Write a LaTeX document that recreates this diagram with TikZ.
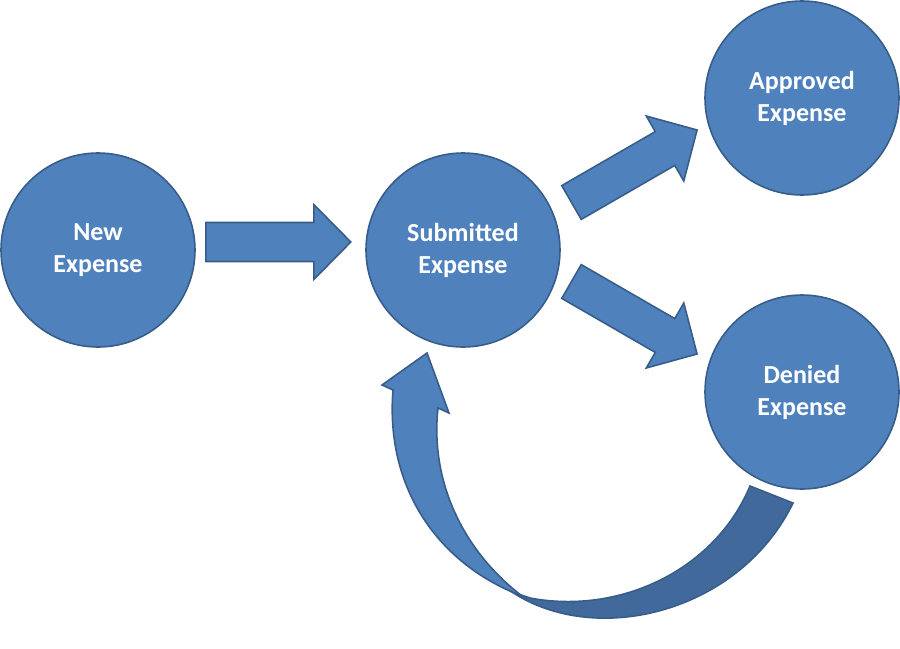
\documentclass[tikz,border=0pt]{standalone}
\usepackage{fontspec}
\setmainfont{Carlito}
\usetikzlibrary{calc}

\definecolor{stateblue}{HTML}{4F81BD}
\definecolor{edgeblue}{HTML}{385D8A}
\definecolor{backblue}{HTML}{41699B}

\begin{document}
\begin{tikzpicture}[x=1pt, y=-1pt, line width=1.6pt,
  state/.style={circle, draw=edgeblue, fill=stateblue, minimum size=194pt, inner sep=0pt,
    align=center, text=white, font=\fontsize{26}{32}\selectfont\bfseries},
  face/.style={draw=edgeblue, fill=stateblue},
  backface/.style={draw=edgeblue, fill=backblue},
  % block arrow, tail at the origin, pointing along +x
  blockarrow/.pic={\draw[face] (0,-19.5) -- (108,-19.5) -- (108,-37.5) -- (145,0)
    -- (108,37.5) -- (108,19.5) -- (0,19.5) -- cycle;}]

  % ── the four states ──
  \node[state] (new) at (98,250)  {New\\Expense};
  \node[state] (sub) at (463,250) {Submitted\\Expense};
  \node[state] (app) at (802,98)  {Approved\\Expense};
  \node[state] (den) at (802,392) {Denied\\Expense};

  % ── straight block arrows ──
  \pic at ($(new.east)+(10,-8)$) {blockarrow};
  \pic[rotate=30]  at ($(sub)+(108.5,-47.5)$) {blockarrow};
  \pic[rotate=-30] at ($(sub)+(108.5,31.5)$)  {blockarrow};

  % ── curved arrow: denied -> submitted ──
  % back side first (darker), then the front side with the head
  \draw[backface] (512,592) .. controls (597,648) and (740,612) .. (793,503)
    -- (750,486) .. controls (715,570) and (620,615) .. (530,598) -- cycle;
  \draw[face] (427,353) -- (449,413) -- (438,408)
    .. controls (430,480) and (462,550) .. (522,596)
    .. controls (440,565) and (385,490) .. (393,390) -- (382,385) -- cycle;

  \path[use as bounding box] (0,0) rectangle (900,640);
\end{tikzpicture}
\end{document}
